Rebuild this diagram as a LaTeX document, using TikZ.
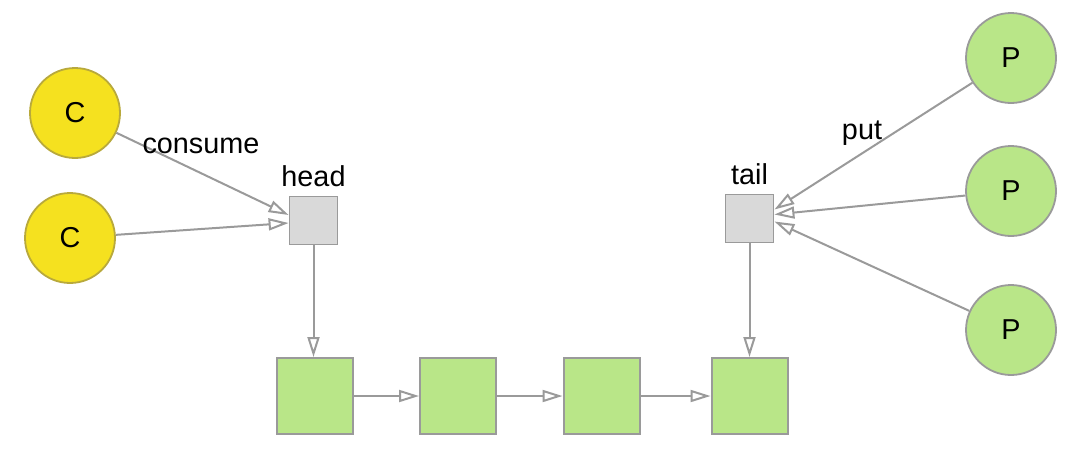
\documentclass[tikz,border=0pt]{standalone}
\usepackage{fontspec}
\setmainfont{Liberation Sans}
\usetikzlibrary{arrows.meta,positioning}
\definecolor{consumerfill}{HTML}{F5E11F}
\definecolor{consumerline}{HTML}{B8A93C}
\definecolor{producerfill}{HTML}{B9E688}
\definecolor{nodefill}{HTML}{B9E688}
\definecolor{pointerfill}{HTML}{D9D9D9}
\definecolor{edgegray}{HTML}{9A9A9A}

\begin{document}
\begin{tikzpicture}[
  x=0.5pt, y=-0.5pt,
  font=\fontsize{14.4}{17}\selectfont,
  >={Triangle[open, length=10pt, width=6pt]},
  consumer/.style={
    circle,
    draw=consumerline,
    fill=consumerfill,
    line width=0.9pt,
    minimum size=45pt,
    inner sep=0pt
  },
  producer/.style={
    circle,
    draw=edgegray,
    fill=producerfill,
    line width=0.9pt,
    minimum size=45pt,
    inner sep=0pt
  },
  pointer/.style={
    rectangle,
    draw=edgegray,
    fill=pointerfill,
    line width=0.9pt,
    minimum size=24pt,
    inner sep=0pt
  },
  qnode/.style={
    rectangle,
    draw=edgegray,
    fill=nodefill,
    line width=1pt,
    minimum size=38pt,
    inner sep=0pt
  },
  link/.style={->, line width=1pt, draw=edgegray}
]

  % canvas
  \useasboundingbox (0,0) rectangle (1080,461);

  % consumers
  \node[consumer] (c1) at (75,113) {C};
  \node[consumer] (c2) at (70,238) {C};

  % producers
  \node[producer] (p1) at (1011,58) {P};
  \node[producer] (p2) at (1011,191) {P};
  \node[producer] (p3) at (1011,330) {P};

  % head / tail pointers
  \node[pointer] (head) at (313.5,220.5) {};
  \node[pointer] (tail) at (749.5,218.5) {};
  \node[above=1pt of head] (headlbl) {head};
  \node[above=1pt of tail] (taillbl) {tail};

  % queue nodes
  \node[qnode] (q1) at (315,396) {};
  \node[qnode] (q2) at (458,396) {};
  \node[qnode] (q3) at (601.5,396) {};
  \node[qnode] (q4) at (749.5,396) {};

  % consume / put
  \draw[link] (c1) -- ([yshift=2.75pt]head.west);
  \draw[link] (c2) -- ([yshift=-1.25pt]head.west);
  \node (consumelbl) at (201,146) {consume};

  \draw[link] (p1) -- ([yshift=4.5pt]tail.east);
  \draw[link] (p2) -- ([yshift=2pt]tail.east);
  \draw[link] (p3) -- ([yshift=-1.5pt]tail.east);
  \node (putlbl) at (862,133) {put};

  % pointers into the list
  \draw[link] (head.south) -- (head.south |- q1.north);
  \draw[link] (tail.south) -- (tail.south |- q4.north);

  % list links
  \draw[link] (q1) -- (q2);
  \draw[link] (q2) -- (q3);
  \draw[link] (q3) -- (q4);

\end{tikzpicture}
\end{document}
